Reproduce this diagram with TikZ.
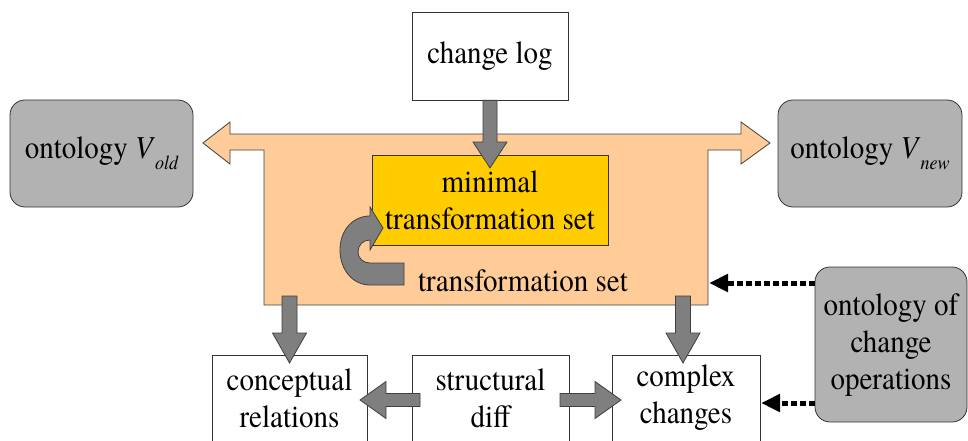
\documentclass[tikz,border=0pt]{standalone}
\usepackage{fontspec}
\setmainfont{texgyretermes}[Extension=.otf, UprightFont=*-regular, ItalicFont=*-italic, BoldFont=*-bold, BoldItalicFont=*-bolditalic]
\usetikzlibrary{arrows.meta,calc}
\definecolor{peach}{HTML}{FFCC99}
\definecolor{gold}{HTML}{FFCC00}
\definecolor{boxgray}{HTML}{B2B2B2}
\definecolor{arrgray}{HTML}{7F7F7F}
\tikzset{
  lbl/.style={font=\rmfamily\fontsize{29}{33.5}\selectfont, align=center, yscale=1.1, transform shape},
  whitebox/.style={draw=black!80, line width=0.8pt, fill=white, inner sep=0pt},
  graybox/.style={draw=black!80, line width=0.8pt, fill=boxgray, rounded corners=15pt, inner sep=0pt},
  garrow/.style={draw=black!75, line width=0.8pt, fill=arrgray},
  dotarrow/.style={line width=5pt, dash pattern=on 6pt off 3pt, -{Triangle[length=19pt,width=17pt]}},
}
\newcommand\vsub[1]{\raisebox{-0.35em}{\fontsize{18}{18}\selectfont\itshape #1}}
\begin{document}
\begin{tikzpicture}[x=1pt,y=1pt]
\useasboundingbox (0,0) rectangle (968,440);

% orange transformation set shape with two block arrows
\draw[draw=black!75, line width=0.8pt, fill=peach]
  (203,297) -- (230,318) -- (230,306) -- (741,306) -- (741,318) -- (770,297)
  -- (741,276) -- (741,290) -- (708,290) -- (708,135) -- (264,135) -- (264,290)
  -- (230,290) -- (230,276) -- cycle;

% boxes
\node[whitebox, minimum width=156pt, minimum height=88pt] (log) at (490,384) {};
\node[lbl] at (log) {change log};
\node[graybox, minimum width=183pt, minimum height=107pt] (vold) at (101.5,286.5) {};
\node[lbl] at (vold) {ontology \textit{V}\vsub{old}};
\node[graybox, minimum width=184pt, minimum height=107pt] (vnew) at (870,286.5) {};
\node[lbl] at (vnew) {ontology \textit{V}\vsub{new}};
\node[draw=black!80, line width=0.8pt, fill=gold, minimum width=236pt, minimum height=90pt, inner sep=0pt] (mts) at (490,240) {};
\node[lbl] at (mts) {minimal\\transformation set};
\node[lbl, anchor=center] (ts) at (523,159) {transformation set};

\node[whitebox, minimum width=155pt, minimum height=92pt] (cr) at (289.5,39) {};
\node[lbl] at (289.5,42) {conceptual\\relations};
\node[whitebox, minimum width=157pt, minimum height=92pt] (sd) at (490.5,39) {};
\node[lbl] at (490.5,42) {structural\\diff};
\node[whitebox, minimum width=148pt, minimum height=92pt] (cc) at (686,39) {};
\node[lbl] at (686,42) {complex\\changes};
\node[graybox, minimum width=152pt, minimum height=155pt] (oc) at (891,95.5) {};
\node[lbl] at (891,95) {ontology of\\change\\operations};

% change log -> minimal transformation set
\draw[garrow] ($(log.south)+(-7,0)$) -- ($(log.south)+(7,0)$) -- (497,298) -- (507,298)
  -- (490,272) -- (473,298) -- (483,298) -- cycle;

% orange box -> conceptual relations
\draw[garrow] (282,144) -- (297,144) -- (297,107) -- (306.5,107) -- (289.5,77)
  -- (272.5,107) -- (282,107) -- cycle;
% orange box -> complex changes
\draw[garrow] (675.5,144) -- (690.5,144) -- (690.5,107) -- (700,107) -- (683,77)
  -- (666,107) -- (675.5,107) -- cycle;

% structural diff -> conceptual relations
\draw[garrow] (420,46.5) -- (386,46.5) -- (386,58.5) -- (360,40) -- (386,21.5)
  -- (386,33.5) -- (420,33.5) -- cycle;
% structural diff -> complex changes
\draw[garrow] (560,46.5) -- (595,46.5) -- (595,58.5) -- (621,40) -- (595,21.5)
  -- (595,33.5) -- (560,33.5) -- cycle;

% curved arrow (transformation set -> minimal transformation set)
\draw[garrow] (404,155) -- (370,155) .. controls (353,155) and (340,170) .. (340,190)
  .. controls (340,210) and (353,224) .. (370,224) -- (370,233) -- (383,212)
  -- (370,190) -- (370,200) .. controls (363,200) and (358,195) .. (358,188)
  .. controls (358,182) and (363,177) .. (370,177) -- (404,177) -- cycle;

% dotted arrows from ontology of change operations
\coordinate (tsright) at (709,157);
\coordinate (ccright) at (761,37);
\draw[dotarrow] (oc.west |- tsright) -- (tsright);
\draw[dotarrow] (oc.west |- ccright) -- (ccright);
\end{tikzpicture}
\end{document}
